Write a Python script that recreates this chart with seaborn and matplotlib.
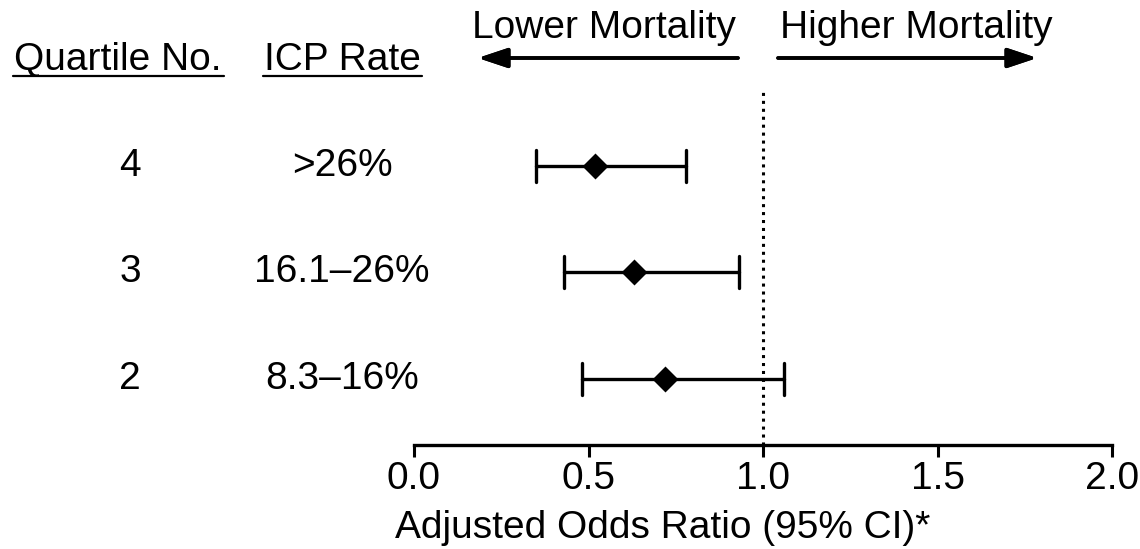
import pandas as pd
import numpy as np
import matplotlib.pyplot as plt
import matplotlib.transforms as mtransforms
from matplotlib.lines import Line2D
import seaborn as sns

# Data
quartiles = ["4", "3", "2"]
icp_rates = [">26%", "16.1\u201326%", "8.3\u201316%"]
odds_ratio = [0.52, 0.63, 0.72]
ci_lower = [0.35, 0.43, 0.48]
ci_upper = [0.78, 0.93, 1.06]
x_ticks = [0.0, 0.5, 1.0, 1.5, 2.0]

# long form: lower / estimate / upper per row, median = estimate, min-max = CI
rows = []
for q, lo, pt, hi in zip(quartiles, ci_lower, odds_ratio, ci_upper):
    for v in (lo, pt, hi):
        rows.append({"quartile": q, "value": v})
df = pd.DataFrame(rows)

sns.set_style("white")
plt.rcParams["font.family"] = ["Liberation Sans", "DejaVu Sans"]
plt.rcParams["text.color"] = "black"
plt.rcParams["xtick.color"] = "black"
FS = 28

W, H = 1140, 549
fig = plt.figure(figsize=(W / 100, H / 100), dpi=100)

def fx(px):
    return px / W

def fy(py):
    return 1 - py / H

ax = fig.add_axes([fx(414), fy(445), fx(1112) - fx(414), (445 - 88) / H])

sns.pointplot(
    data=df, x="value", y="quartile", order=quartiles,
    estimator=np.median, errorbar=("pi", 100),
    color="black", markers="D", markersize=11, linestyles="none",
    capsize=0.3, err_kws={"linewidth": 2.4}, ax=ax,
)

# reference line at OR = 1
ax.axvline(1.0, color="black", linestyle=(0, (1, 1.6)), linewidth=2.2, zorder=0)

ax.set_xlim(0, 2)
ax.set_ylim(2.62, -0.73)
ax.set_xticks(x_ticks)
ax.set_xticklabels([f"{t:.1f}" for t in x_ticks], fontsize=FS)
ax.tick_params(axis="x", bottom=True, direction="out", length=8.5, width=2.2,
               pad=3, color="black", labelcolor="black")
ax.set_yticks([])
ax.set_xlabel("")
ax.set_ylabel("")
for side in ["top", "right", "left"]:
    ax.spines[side].set_visible(False)
ax.spines["bottom"].set_linewidth(2.4)
ax.spines["bottom"].set_color("black")

# x label, left of axis centre
fig.text(fx(663), fy(538), "Adjusted Odds Ratio (95% CI)*", fontsize=FS,
         ha="center", va="baseline")

# row labels to the left of the plot
trans = mtransforms.blended_transform_factory(fig.transFigure, ax.transData)
for i, (q, r) in enumerate(zip(quartiles, icp_rates)):
    ax.text(fx(130), i, q, fontsize=FS, ha="center", va="center", transform=trans)
    ax.text(fx(342), i, r, fontsize=FS, ha="center", va="center", transform=trans)

# underlined column headers
fig.text(fx(118), fy(70), "Quartile No.", fontsize=FS, ha="center", va="baseline")
fig.text(fx(342), fy(70), "ICP Rate", fontsize=FS, ha="center", va="baseline")
fig.add_artist(Line2D([fx(13), fx(224)], [fy(76), fy(76)], color="black", lw=1.6))
fig.add_artist(Line2D([fx(263), fx(422)], [fy(76), fy(76)], color="black", lw=1.6))

# direction arrows
fig.text(fx(604), fy(38), "Lower Mortality", fontsize=FS, ha="center", va="baseline")
fig.text(fx(916), fy(38), "Higher Mortality", fontsize=FS, ha="center", va="baseline")
arrow_kw = dict(arrowstyle="-|>,head_width=0.3,head_length=0.9", color="black",
                lw=2.6, mutation_scale=20, shrinkA=0, shrinkB=0)
fig.add_artist(plt.annotate("", xy=(fx(478), fy(58)), xytext=(fx(738), fy(58)),
                            xycoords="figure fraction", arrowprops=arrow_kw))
fig.add_artist(plt.annotate("", xy=(fx(1037), fy(58)), xytext=(fx(778), fy(58)),
                            xycoords="figure fraction", arrowprops=arrow_kw))

plt.savefig("out.png", dpi=100)
